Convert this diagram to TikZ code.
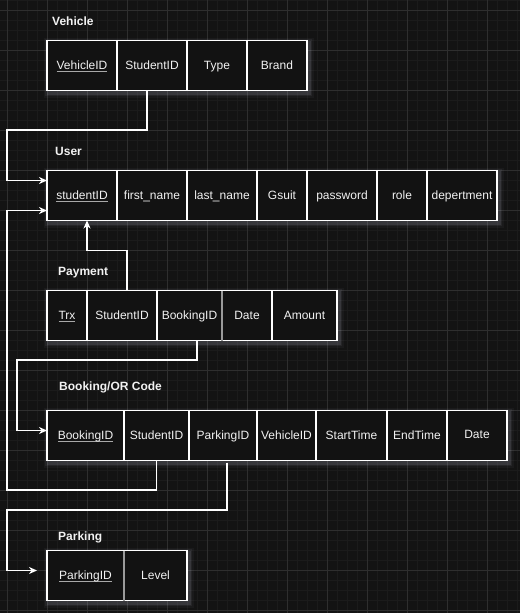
\documentclass[tikz,border=0pt]{standalone}
\usepackage{fontspec}
\setmainfont{Liberation Sans}
\usetikzlibrary{arrows.meta}
\definecolor{bgc}{HTML}{131313}
\definecolor{cellbg}{HTML}{121212}
\definecolor{minorc}{HTML}{1B1B1B}
\definecolor{majorc}{HTML}{2E2E2E}
\definecolor{txt}{HTML}{F2F2F2}
\definecolor{keyline}{HTML}{A8A8A8}
\definecolor{glowc}{HTML}{D8DCF0}
\definecolor{divgray}{HTML}{9A9A9A}
\newcommand{\pkey}[1]{{\setbox0=\hbox{#1}\rlap{\color{keyline}\rule[-2.4pt]{\wd0}{1.3pt}}\box0}}
\pgfdeclarelayer{gridlayer}
\pgfdeclarelayer{glowlayer}
\pgfsetlayers{gridlayer,glowlayer,main}
\begin{document}
\begin{tikzpicture}[x=1pt,y=-1pt,
  ecell/.style={draw=white, line width=1.2pt, fill=cellbg, minimum width=#1,
    minimum height=50pt, inner sep=0pt, outer sep=0pt, text=txt,
    font=\fontsize{12}{14}\selectfont, text height=8.6pt, text depth=0pt, anchor=west},
  ttl/.style={text=txt, font=\bfseries\fontsize{12}{14}\selectfont, anchor=base west, inner sep=0pt},
  conn/.style={draw=white, line width=1.2pt, -{Stealth[length=8pt,width=7pt,inset=2.5pt]}},
  divline/.style={draw=divgray, line width=1.2pt},
]
\useasboundingbox (0,0) rectangle (520,613);
\begin{pgfonlayer}{gridlayer}
  \fill[bgc] (0,0) rectangle (520,613);
  \foreach \x in {-3,7,...,517} \draw[minorc, line width=0.8pt] (\x,0) -- (\x,613);
  \foreach \y in {0,10,...,610} \draw[minorc, line width=0.8pt] (0,\y) -- (520,\y);
  \foreach \x in {7,47,...,487} \draw[majorc, line width=1pt] (\x,0) -- (\x,613);
  \foreach \y in {10,50,...,610} \draw[majorc, line width=1pt] (0,\y) -- (520,\y);
\end{pgfonlayer}

% Vehicle
\node[ttl] (tv) at (52,25) {Vehicle};
\node[ecell=70, anchor=north west] (v1) at (47,40.5) {\pkey{VehicleID}};
\node[ecell=70] (v2) at (v1.east) {StudentID};
\node[ecell=60] (v3) at (v2.east) {Type};
\node[ecell=60] (v4) at (v3.east) {Brand};

% User
\node[ttl] (tu) at (55,155) {User};
\node[ecell=70, anchor=north west] (u1) at (47,170.5) {\pkey{studentID}};
\node[ecell=70] (u2) at (u1.east) {first\_name};
\node[ecell=70] (u3) at (u2.east) {last\_name};
\node[ecell=50] (u4) at (u3.east) {Gsuit};
\node[ecell=70] (u5) at (u4.east) {password};
\node[ecell=50] (u6) at (u5.east) {role};
\node[ecell=70] (u7) at (u6.east) {depertment};

% Payment
\node[ttl] (tp) at (58,275) {Payment};
\node[ecell=40, anchor=north west] (p1) at (47,290.5) {\pkey{Trx}};
\node[ecell=70] (p2) at (p1.east) {StudentID};
\node[ecell=65] (p3) at (p2.east) {BookingID};
\node[ecell=50] (p4) at (p3.east) {Date};
\node[ecell=65] (p5) at (p4.east) {Amount};
\draw[divline] (p3.north east) -- (p3.south east);

% Booking
\node[ttl] (tb) at (59,390) {Booking/OR Code};
\node[ecell=77, anchor=north west] (b1) at (47,410.5) {\pkey{BookingID}};
\node[ecell=65] (b2) at (b1.east) {StudentID};
\node[ecell=68] (b3) at (b2.east) {ParkingID};
\node[ecell=59] (b4) at (b3.east) {VehicleID};
\node[ecell=71] (b5) at (b4.east) {StartTime};
\node[ecell=60] (b6) at (b5.east) {EndTime};
\node[ecell=60] (b7) at (b6.east) {\raisebox{1.5pt}{Date}};

% Parking
\node[ttl] (tk) at (58,540) {Parking};
\node[ecell=77, anchor=north west] (k1) at (47,550.5) {\pkey{ParkingID}};
\node[ecell=63] (k2) at (k1.east) {Level};
\draw[divline] (k1.north east) -- (k1.south east);

% glow
\begin{pgfonlayer}{glowlayer}
  \foreach \a/\b in {v1/v4,u1/u7,p1/p5,b1/b7,k1/k2}{
    \foreach \w/\o in {10/0.04,7/0.06,4/0.1}{
      \draw[glowc, opacity=\o, line width=\w pt]
        ([shift={(1.5pt,-2pt)}]\a.north west) rectangle ([shift={(1.5pt,-2pt)}]\b.south east);
    }
  }
\end{pgfonlayer}

% connectors
\coordinate (c1) at (7,130);
\coordinate (c2) at (7,490);
\coordinate (c3) at (17,360);
\coordinate (c4) at (7,510);
\draw[conn] ([xshift=-5pt]v2.south) |- (c1) |- ([yshift=15pt]u1.west);
\draw[conn] (b2.south) |- (c2) |- ([yshift=-15pt]u1.west);
\draw[conn] ([xshift=5pt]p2.north) -- ++(0,-40) -| ([xshift=5pt]u1.south);
\draw[conn] ([xshift=7.5pt]p3.south) |- (c3) |- ([yshift=5pt]b1.west);
\draw[conn] ([xshift=4pt,yshift=-2pt]b3.south) |- (c4) |- ([xshift=-10pt,yshift=5pt]k1.west);
\end{tikzpicture}
\end{document}
